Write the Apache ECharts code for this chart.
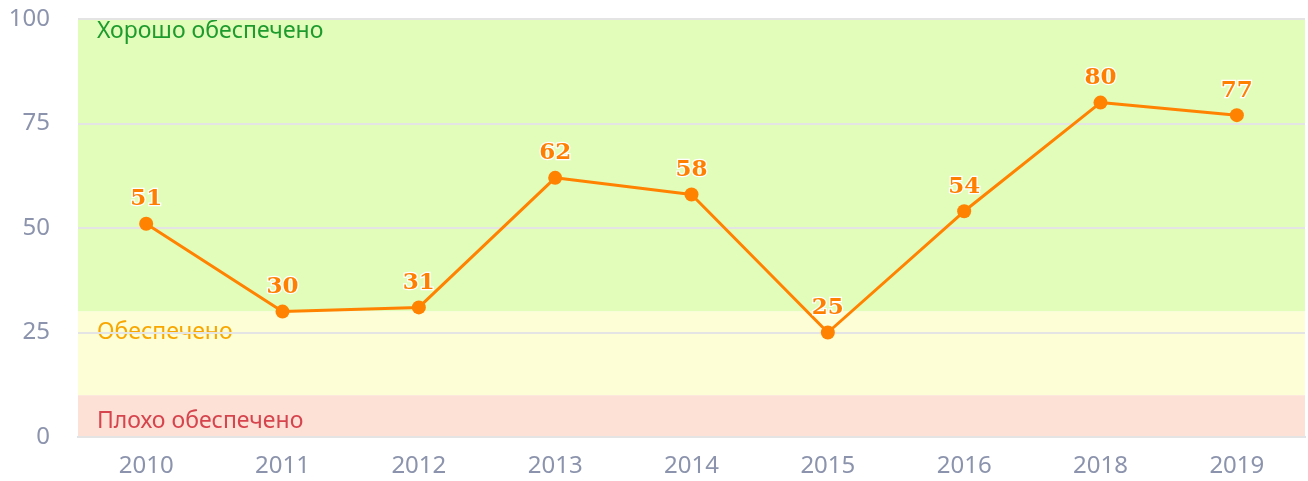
<!DOCTYPE html>
<html><head><meta charset="utf-8">
<script src="https://cdn.jsdelivr.net/npm/echarts@6/dist/echarts.min.js"></script>
<style>html,body{margin:0;padding:0;background:#fff}#c{width:1308px;height:481px}</style>
</head><body><div id="c"></div>
<script>
const years = ['2010','2011','2012','2013','2014','2015','2016','2018','2019'];
const values = [51, 30, 31, 62, 58, 25, 54, 80, 77];
const yTicks = [0, 25, 50, 75, 100];
const bands = [
  {name:'Хорошо обеспечено', from:30, to:100, fill:'#e2fcb9', text:'#1e9b2d'},
  {name:'Обеспечено', from:10, to:30, fill:'#fdfed5', text:'#f8a600'},
  {name:'Плохо обеспечено', from:0, to:10, fill:'#fde0d6', text:'#d6444d'}
];
const bandOffsets = [[19,1],[19,9],[19,15]];
const chart = echarts.init(document.getElementById('c'));
chart.setOption({
  animation:false,
  grid:{left:78, right:3, top:19, bottom:44},
  xAxis:{type:'category', data:years, boundaryGap:true,
    axisLine:{show:true, lineStyle:{color:'#d3d8e8', width:2}},
    axisTick:{show:false},
    axisLabel:{color:'#8c94ad', fontSize:24, fontFamily:'Noto Sans', margin:17}},
  yAxis:{type:'value', min:yTicks[0], max:yTicks[yTicks.length-1], interval:25, z:1,
    axisLine:{show:false}, axisTick:{show:false},
    splitLine:{lineStyle:{color:'#e4e4e4', width:2}},
    axisLabel:{color:'#8c94ad', fontSize:24, fontFamily:'Noto Sans', margin:28}},
  series:[
    {type:'line', data:[], z:0, silent:true,
     markArea:{silent:true, z:-1,
       data: bands.map((b,i)=>[{yAxis:b.to, name:b.name, itemStyle:{color:b.fill},
          label:{show:true, position:'insideTopLeft', distance:0, offset:bandOffsets[i], color:b.text, fontSize:23, fontFamily:'Noto Sans'}},
          {yAxis:b.from}])}},
    {type:'line', data:values, z:3, color:'#ff8200',
     lineStyle:{width:3, color:'#ff8200'},
     symbol:'circle', symbolSize:14,
     itemStyle:{color:'#ff8200'},
     label:{show:true, position:'top', distance:6, color:'#ff7f00', fontSize:23, fontWeight:'bold',
       fontFamily:'DejaVu Serif', textBorderColor:'#fff', textBorderWidth:2.5}}
  ]
});
</script></body></html>
